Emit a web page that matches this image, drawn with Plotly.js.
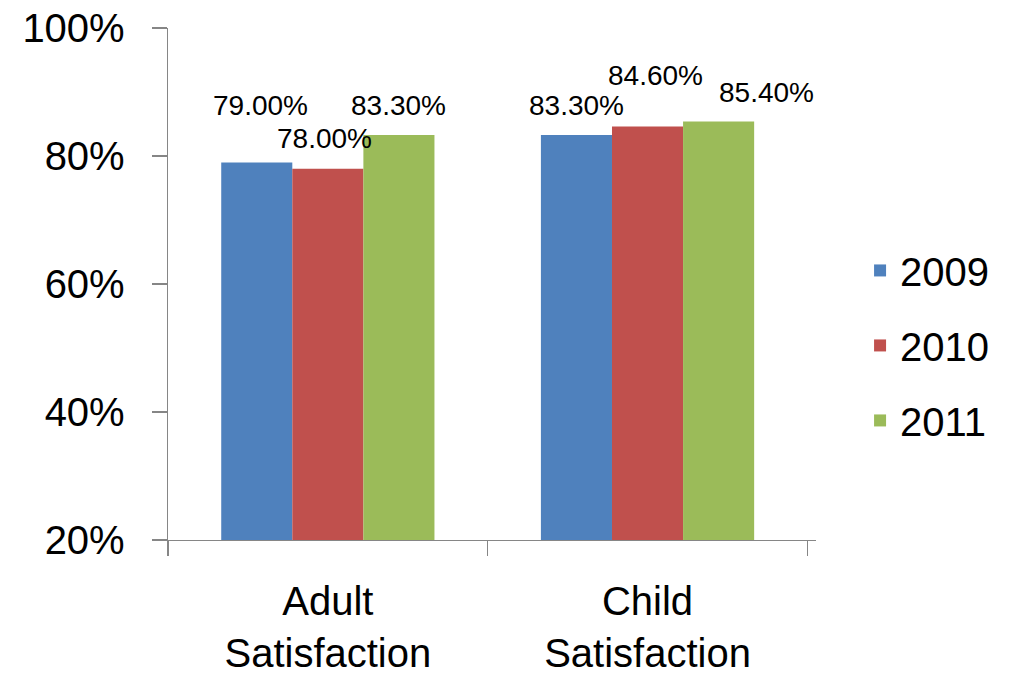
<!DOCTYPE html>
<html>
<head>
<meta charset="utf-8">
<script src="https://cdn.plot.ly/plotly-3.0.1.min.js"></script>
<style>html,body{margin:0;padding:0;background:#fff;}#chart{width:1012px;height:678px;}</style>
</head>
<body>
<div id="chart"></div>
<script>
// Data
const categories = ["Adult<br>Satisfaction", "Child<br>Satisfaction"];
const seriesNames = ["2009", "2010", "2011"];
const values2009 = [79.0, 83.3];
const values2010 = [78.0, 84.6];
const values2011 = [83.3, 85.4];
const yTickVals = [20, 40, 60, 80, 100];
const yTickText = ["20%", "40%", "60%", "80%", "100%"];

// Style
const colors = ["#4F81BD", "#C0504D", "#9BBB59"];
const FONT = "Liberation Sans, Arial, sans-serif";
const barOffsets = [-0.222, 0, 0.222];           // category units of grouped bars
const labelShiftY = [[57, 29], [30, 51], [29, 29]]; // px, per series per category
const labelShiftX = [[4, 0], [-3, 8], [0, 48]];

const allValues = [values2009, values2010, values2011];

const traces = allValues.map((vals, i) => ({
  type: "bar",
  name: seriesNames[i],
  x: categories,
  y: vals,
  marker: { color: colors[i] },
  legendgroup: "g" + i,
  hoverinfo: "none"
}));

const annotations = [];
allValues.forEach((vals, i) => {
  vals.forEach((v, j) => {
    annotations.push({
      xref: "x", yref: "y",
      x: j + barOffsets[i], y: v,
      text: v.toFixed(2) + "%",
      showarrow: false,
      xanchor: "center", yanchor: "middle",
      xshift: labelShiftX[i][j], yshift: labelShiftY[i][j],
      font: { family: FONT, size: 28, color: "#000" }
    });
  });
});

const layout = {
  width: 1012, height: 678,
  margin: { l: 168, r: 196, t: 28, b: 138 },
  paper_bgcolor: "#fff", plot_bgcolor: "#fff",
  barmode: "group",
  bargap: 0.333, bargroupgap: 0,
  font: { family: FONT, size: 40, color: "#000" },
  showlegend: true,
  legend: {
    x: 1.068, xanchor: "left", y: 0.38, yanchor: "middle",
    font: { family: FONT, size: 40, color: "#000" },
    tracegroupgap: 20, traceorder: "grouped",
    itemclick: false
  },
  xaxis: {
    type: "category",
    showline: true, linecolor: "#868686", linewidth: 1.3,
    ticks: "outside", tickson: "boundaries", ticklen: 15, tickcolor: "#868686", tickwidth: 1.3,
    showgrid: false, zeroline: false,
    ticklabelstandoff: 26,
    tickfont: { family: FONT, size: 40, color: "#000" },
    fixedrange: true
  },
  yaxis: {
    range: [20, 100],
    tickvals: yTickVals, ticktext: yTickText,
    showline: true, linecolor: "#868686", linewidth: 1.3,
    ticks: "outside", ticklen: 15, tickcolor: "#868686", tickwidth: 1.3,
    showgrid: false, zeroline: false,
    ticklabelstandoff: 19,
    tickfont: { family: FONT, size: 40, color: "#000" },
    fixedrange: true
  },
  annotations: annotations
};

Plotly.newPlot("chart", traces, layout, { displayModeBar: false, staticPlot: true });
</script>
</body>
</html>
